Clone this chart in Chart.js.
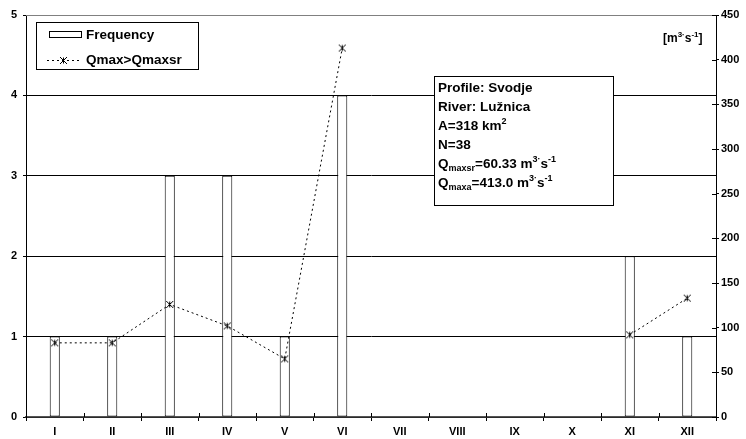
<!DOCTYPE html>
<html>
<head>
<meta charset="utf-8">
<script src="https://cdn.jsdelivr.net/npm/chart.js@4"></script>
<style>
html,body{margin:0;padding:0;background:#fff;}
#wrap{position:relative;width:746px;height:439px;}
</style>
</head>
<body>
<div id="wrap"><canvas id="c" width="746" height="439"></canvas></div>
<script>
// ---- data ----
const months = ['I','II','III','IV','V','VI','VII','VIII','IX','X','XI','XII'];
const frequency = [1,1,3,3,1,4,0,0,0,0,2,1];
const qmaxAboveMean = [83,83,126,102,65,413,null,null,null,null,92,133];
const leftAxis = {min:0, max:5, step:1};
const rightAxis = {min:0, max:450, step:50};
const seriesNames = ['Frequency','Qmax>Qmaxsr'];
const infoLines = [
  [{t:'Profile: Svodje'}],
  [{t:'River: Lužnica'}],
  [{t:'A=318 km'},{t:'2',s:'sup'}],
  [{t:'N=38'}],
  [{t:'Q'},{t:'maxsr',s:'sub'},{t:'=60.33 m'},{t:'3·',s:'sup'},{t:'s'},{t:'-1',s:'sup'}],
  [{t:'Q'},{t:'maxa',s:'sub'},{t:'=413.0 m'},{t:'3·',s:'sup'},{t:'s'},{t:'-1',s:'sup'}]
];
const unitLabel = [{t:'[m'},{t:'3·',s:'sup'},{t:'s'},{t:'-1',s:'sup'},{t:']'}];

const FONT = '"Liberation Sans", Arial, sans-serif';
Chart.defaults.font.family = FONT;
Chart.defaults.font.weight = 'bold';
Chart.defaults.font.size = 11;
Chart.defaults.color = '#000';

// star marker (x with vertical bar)
function makeStar(){
  const c = document.createElement('canvas');
  c.width = 9; c.height = 9;
  const g = c.getContext('2d');
  g.strokeStyle = '#000'; g.lineWidth = 1;
  g.beginPath();
  g.moveTo(1,1); g.lineTo(8,8);
  g.moveTo(8,1); g.lineTo(1,8);
  g.moveTo(4.5,1.5); g.lineTo(4.5,7.5);
  g.stroke();
  return c;
}
const star = makeStar();

function drawRich(ctx, parts, x, y, size){
  let cx = x;
  ctx.textBaseline = 'middle';
  ctx.textAlign = 'left';
  for (const p of parts){
    let fs = size, dy = 0;
    if (p.s === 'sup'){ fs = Math.round(size*0.68); dy = -size*0.36; }
    if (p.s === 'sub'){ fs = Math.round(size*0.68); dy = size*0.3; }
    ctx.font = 'bold ' + fs + 'px ' + FONT;
    ctx.fillText(p.t, cx, y + dy);
    cx += ctx.measureText(p.t).width;
  }
}

const overlay = {
  id:'overlay',
  afterDraw(chart){
    const ctx = chart.ctx;
    const ca = chart.chartArea;
    ctx.save();
    // top border of plot area
    ctx.strokeStyle = '#808080'; ctx.lineWidth = 1;
    ctx.beginPath(); ctx.moveTo(ca.left, ca.top+0.5); ctx.lineTo(ca.right, ca.top+0.5); ctx.stroke();
    // inward tick parts on x axis and right axis
    ctx.strokeStyle = '#000';
    const xs = chart.scales.x, y2 = chart.scales.y2;
    ctx.beginPath();
    for (let i=0;i<=months.length;i++){
      const px = Math.round(xs.getPixelForValue(i) - (xs.getPixelForValue(1)-xs.getPixelForValue(0))/2) + 0.5;
      ctx.moveTo(px, ca.bottom); ctx.lineTo(px, ca.bottom-4);
    }
    for (let v=rightAxis.min; v<=rightAxis.max; v+=rightAxis.step){
      const py = Math.round(y2.getPixelForValue(v)) + 0.5;
      ctx.moveTo(ca.right, py); ctx.lineTo(ca.right-4, py);
    }
    ctx.stroke();

    // legend box
    ctx.fillStyle = '#fff';
    ctx.fillRect(36, 22, 162, 47);
    ctx.strokeStyle = '#000';
    ctx.strokeRect(36.5, 22.5, 162, 47);
    ctx.strokeRect(49.5, 31.5, 32, 6);
    ctx.setLineDash([2,3]);
    ctx.beginPath(); ctx.moveTo(47, 60.5); ctx.lineTo(81, 60.5); ctx.stroke();
    ctx.setLineDash([]);
    ctx.drawImage(star, 59, 56);
    ctx.fillStyle = '#000';
    ctx.font = 'bold 13.5px ' + FONT;
    ctx.textBaseline = 'middle';
    ctx.fillText(seriesNames[0], 86, 35);
    ctx.fillText(seriesNames[1], 86, 60);

    // info box
    ctx.fillStyle = '#fff';
    ctx.fillRect(434, 76, 179, 129);
    ctx.strokeRect(434.5, 76.5, 179, 129);
    ctx.fillStyle = '#000';
    const ys = [88.5, 107, 126, 145, 164, 183];
    infoLines.forEach((ln,i)=> drawRich(ctx, ln, 438, ys[i], 13.5));

    // unit label
    drawRich(ctx, unitLabel, 663, 39, 12);
    ctx.restore();
  }
};

new Chart(document.getElementById('c'), {
  data:{
    labels: months,
    datasets:[
      {
        type:'line', label:seriesNames[1], data:qmaxAboveMean, yAxisID:'y2',
        borderColor:'#000', borderWidth:1, borderDash:[2,3], fill:false, tension:0,
        pointStyle: star, pointRadius:4, spanGaps:false, order:0
      },
      {
        type:'bar', label:seriesNames[0], data:frequency, yAxisID:'y',
        backgroundColor:'#fff', borderColor:'#000', borderWidth:1, borderSkipped:false,
        categoryPercentage:1, barPercentage:0.175, order:1
      }
    ]
  },
  options:{
    responsive:false, animation:false, devicePixelRatio:1,
    layout:{padding:{top:15,left:0,right:0,bottom:0}},
    plugins:{legend:{display:false}, tooltip:{enabled:false}},
    scales:{
      x:{
        type:'category', offset:true,
        grid:{offset:true, drawOnChartArea:false, tickLength:4, color:'#000'},
        border:{color:'#555', width:1.5},
        ticks:{padding:4, maxRotation:0, autoSkip:false},
        afterFit(s){ s.height = 22; }
      },
      y:{
        position:'left', min:leftAxis.min, max:leftAxis.max,
        ticks:{stepSize:leftAxis.step, padding:6},
        grid:{color:'#000', tickLength:3},
        border:{color:'#000'},
        afterFit(s){ s.width = 26; }
      },
      y2:{
        position:'right', min:rightAxis.min, max:rightAxis.max,
        ticks:{stepSize:rightAxis.step, padding:2},
        grid:{drawOnChartArea:false, tickLength:3, color:'#000'},
        border:{color:'#000'},
        afterFit(s){ s.width = 30; }
      }
    }
  },
  plugins:[overlay]
});
</script>
</body>
</html>
